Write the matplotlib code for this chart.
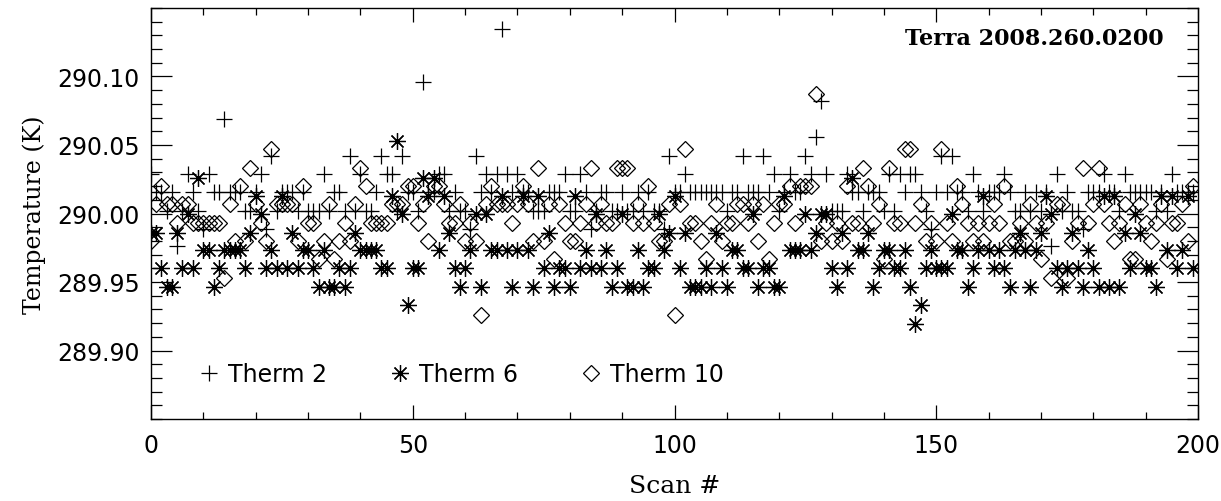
import matplotlib

matplotlib.use("Agg")
import matplotlib.pyplot as plt
import numpy as np
from matplotlib.ticker import FixedLocator, FormatStrFormatter, MultipleLocator

# Scan numbers 0..199, temperatures in K
SCAN = np.arange(200)

THERM_2 = [
    290.029, 290.016, 290.016, 290.002, 290.016, 289.976, 290.002, 290.029, 290.016, 290.002,
    289.989, 290.029, 290.016, 290.016, 290.069, 290.016, 290.016, 290.016, 290.002, 290.002,
    290.016, 290.029, 289.989, 290.042, 290.002, 290.016, 290.016, 290.016, 290.002, 290.016,
    290.002, 290.002, 290.002, 290.029, 290.002, 290.016, 290.016, 290.002, 290.042, 290.002,
    290.029, 290.002, 290.002, 290.016, 290.042, 290.029, 290.029, 290.002, 290.042, 290.016,
    290.016, 290.002, 290.096, 290.016, 290.016, 290.029, 290.029, 290.002, 290.016, 290.002,
    290.002, 289.989, 290.042, 290.016, 290.029, 290.016, 290.029, 290.135, 290.029, 290.016,
    290.029, 290.016, 290.016, 290.002, 290.002, 290.002, 290.016, 290.016, 290.016, 290.029,
    290.002, 290.002, 290.029, 290.016, 289.989, 290.002, 290.016, 290.016, 290.002, 290.002,
    290.016, 290.002, 290.002, 290.016, 290.002, 290.016, 290.002, 290.002, 289.989, 290.042,
    290.016, 290.016, 290.029, 290.016, 290.016, 290.016, 290.016, 290.016, 290.016, 290.016,
    290.002, 290.016, 290.016, 290.042, 290.016, 290.016, 290.016, 290.042, 290.016, 290.029,
    290.002, 290.016, 290.029, 290.016, 290.016, 290.042, 290.029, 290.056, 290.082, 290.029,
    290.002, 290.002, 290.002, 290.029, 290.016, 290.016, 290.002, 290.016, 290.016, 290.016,
    290.002, 290.029, 290.002, 290.029, 290.016, 290.029, 290.029, 290.016, 290.002, 289.989,
    290.016, 290.042, 290.016, 290.042, 290.016, 290.016, 290.002, 290.029, 290.016, 290.002,
    290.016, 290.016, 290.016, 290.029, 290.016, 290.002, 290.002, 290.016, 290.002, 290.016,
    290.002, 290.016, 289.976, 290.029, 290.002, 290.016, 290.002, 290.002, 289.989, 290.016,
    290.016, 290.016, 290.029, 290.016, 290.016, 290.002, 290.029, 290.016, 290.016, 290.016,
    290.016, 290.016, 290.002, 290.016, 290.002, 290.029, 290.016, 290.016, 290.016, 290.016,
]

THERM_6 = [
    289.986, 289.986, 289.960, 289.946, 289.946, 289.986, 289.960, 290.000, 289.960, 290.026,
    289.973, 289.973, 289.946, 289.960, 289.973, 289.973, 289.973, 289.973, 289.960, 289.986,
    290.013, 290.000, 289.960, 289.973, 289.960, 290.013, 289.960, 289.986, 289.960, 289.973,
    289.973, 289.960, 289.946, 289.973, 289.946, 289.946, 289.960, 289.946, 289.960, 289.986,
    289.973, 289.973, 289.973, 289.973, 289.960, 289.960, 290.013, 290.053, 290.000, 289.933,
    289.960, 289.960, 290.026, 290.013, 290.026, 289.973, 290.013, 289.986, 289.960, 289.946,
    289.960, 289.973, 290.000, 289.946, 290.000, 289.973, 289.973, 290.013, 289.973, 289.946,
    289.973, 290.013, 289.973, 289.946, 290.013, 289.960, 289.986, 289.946, 289.960, 289.960,
    289.946, 290.013, 289.960, 289.973, 289.960, 290.000, 289.960, 289.973, 289.946, 289.960,
    290.000, 289.946, 289.946, 289.973, 289.946, 289.960, 289.960, 290.000, 289.973, 289.986,
    290.013, 289.960, 289.986, 289.946, 289.946, 289.946, 289.960, 289.946, 289.986, 289.960,
    289.946, 289.973, 289.973, 289.960, 289.960, 290.000, 289.946, 289.960, 289.960, 289.946,
    289.946, 290.013, 289.973, 289.973, 289.973, 290.000, 289.973, 289.986, 290.000, 290.000,
    289.960, 289.946, 289.986, 289.960, 290.026, 289.973, 289.973, 289.986, 289.946, 289.960,
    289.973, 289.973, 289.960, 289.960, 289.973, 289.946, 289.919, 289.933, 289.960, 289.973,
    289.960, 289.960, 289.960, 290.000, 289.973, 289.973, 289.946, 289.960, 289.973, 290.013,
    289.973, 289.960, 289.973, 289.960, 289.946, 289.973, 289.986, 289.973, 289.946, 289.973,
    289.986, 290.013, 290.000, 289.960, 289.946, 289.960, 289.986, 289.960, 289.946, 289.973,
    289.960, 289.946, 290.013, 289.946, 290.013, 289.946, 289.986, 289.960, 290.000, 289.986,
    289.960, 289.960, 289.946, 290.013, 289.973, 290.013, 289.960, 289.973, 290.013, 289.960,
]

THERM_10 = [
    289.980, 290.007, 290.020, 290.007, 290.007, 289.993, 290.007, 290.007, 289.993, 289.993,
    289.993, 289.993, 289.993, 289.993, 289.953, 290.007, 289.980, 290.020, 289.980, 290.033,
    290.007, 289.993, 289.980, 290.047, 290.007, 290.007, 290.007, 290.007, 289.980, 290.020,
    289.993, 289.993, 289.967, 289.980, 290.007, 289.967, 289.980, 289.993, 289.980, 290.007,
    290.033, 290.020, 289.993, 289.993, 289.993, 289.993, 290.007, 290.007, 290.007, 290.020,
    290.020, 289.993, 290.007, 289.980, 290.020, 290.020, 290.007, 289.993, 289.993, 290.007,
    289.980, 289.993, 289.980, 289.926, 290.007, 290.020, 290.007, 290.007, 290.007, 289.993,
    290.007, 290.020, 290.007, 289.980, 290.033, 289.980, 290.007, 289.967, 290.007, 289.993,
    289.980, 289.980, 289.993, 290.007, 290.033, 289.993, 290.007, 289.993, 289.993, 290.033,
    290.033, 290.033, 289.993, 290.007, 289.993, 290.020, 289.993, 289.980, 289.980, 290.007,
    289.926, 290.007, 290.047, 289.993, 289.993, 289.980, 289.967, 289.993, 290.007, 289.980,
    289.993, 289.993, 290.007, 290.007, 289.993, 290.007, 289.980, 290.007, 289.967, 289.993,
    290.007, 290.007, 290.020, 289.993, 290.020, 290.020, 290.020, 290.087, 289.980, 289.993,
    289.980, 289.993, 289.980, 290.020, 289.993, 289.993, 290.033, 290.020, 289.993, 290.007,
    289.967, 290.033, 289.993, 289.993, 290.047, 290.047, 289.993, 290.007, 289.980, 289.993,
    289.980, 290.047, 289.993, 289.980, 290.020, 290.007, 289.993, 289.980, 289.993, 289.980,
    289.993, 290.007, 289.993, 290.020, 289.980, 289.980, 289.993, 289.980, 290.007, 289.993,
    289.967, 289.993, 289.953, 290.007, 290.007, 289.953, 289.980, 289.993, 290.033, 289.993,
    290.007, 290.033, 290.007, 289.993, 289.980, 289.993, 290.007, 289.967, 289.967, 290.007,
    289.993, 289.980, 289.993, 290.007, 289.967, 289.993, 289.993, 290.007, 289.980, 290.020,
]

SERIES_LABELS = ["Therm 2", "Therm 6", "Therm 10"]
Y_TICKS = [289.90, 289.95, 290.00, 290.05, 290.10]
TITLE_TEXT = "Terra 2008.260.0200"

plt.rcParams["font.family"] = "DejaVu Sans"

fig = plt.figure(figsize=(12.21, 5.02), dpi=100)
ax = fig.add_axes([151 / 1221, 1 - 420 / 502, 1047 / 1221, 411 / 502])

ax.plot(SCAN, THERM_2, linestyle="none", marker="+", ms=11, mew=0.9, color="black",
        label=SERIES_LABELS[0])
ax.plot(SCAN, THERM_6, linestyle="none", marker=(8, 2, 0), ms=12, mew=0.9, color="black",
        label=SERIES_LABELS[1])
ax.plot(SCAN, THERM_10, linestyle="none", marker="D", ms=8, mew=0.9, mfc="none",
        color="black", label=SERIES_LABELS[2])

ax.set_xlim(0, 200)
ax.set_ylim(289.85, 290.15)
ax.xaxis.set_major_locator(MultipleLocator(50))
ax.xaxis.set_minor_locator(MultipleLocator(10))
# the end values of the y range carry no label in the original
ax.yaxis.set_major_locator(FixedLocator(Y_TICKS))
ax.yaxis.set_minor_locator(MultipleLocator(0.01))
ax.yaxis.set_major_formatter(FormatStrFormatter("%.2f"))

ax.tick_params(which="both", direction="in", top=True, right=True, labelsize=17,
               width=0.9, color="black")
ax.tick_params(axis="y", which="major", length=15, pad=8)
ax.tick_params(axis="y", which="minor", length=8)
ax.tick_params(axis="x", which="major", length=10, pad=10)
ax.tick_params(axis="x", which="minor", length=5)
for spine in ax.spines.values():
    spine.set_linewidth(1.0)

ax.set_xlabel("Scan #", family="DejaVu Serif", fontsize=18, labelpad=12)
ax.set_ylabel("Temperature (K)", family="DejaVu Serif", fontsize=17, labelpad=8)

ax.text(0.967, 0.927, TITLE_TEXT, transform=ax.transAxes, ha="right", va="center",
        family="DejaVu Serif", fontweight="bold", fontsize=16)

ax.legend(loc="center left", bbox_to_anchor=(0.035, 0.11), ncol=3, frameon=False,
          numpoints=1, handlelength=1.0, handletextpad=0.3, columnspacing=2.6,
          fontsize=17, borderaxespad=0)

fig.savefig("out.png", dpi=100)
